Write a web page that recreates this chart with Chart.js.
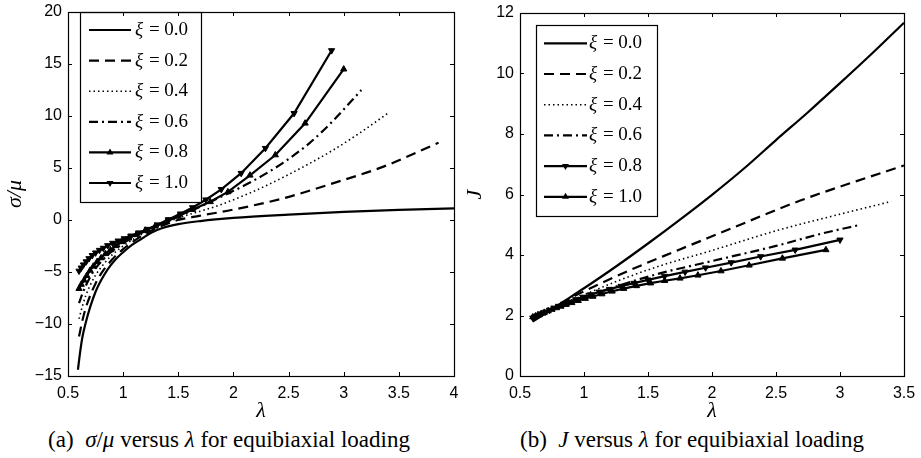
<!DOCTYPE html>
<html>
<head>
<meta charset="utf-8">
<script src="https://cdn.jsdelivr.net/npm/chart.js@4.4.1/dist/chart.umd.min.js"></script>
<style>
  html, body { margin: 0; padding: 0; background: #fff; }
  body { width: 921px; height: 458px; position: relative; overflow: hidden; }
  canvas { position: absolute; top: 0; }
  #chart-a { left: 0; }
  #chart-b { left: 460px; }
  .cap {
    position: absolute; top: 426px; text-align: center;
    font-family: "Liberation Serif", "Times New Roman", serif;
    font-size: 23px; line-height: 28px; color: #000; white-space: nowrap;
  }
</style>
</head>
<body>
<canvas id="chart-a" width="460" height="425"></canvas>
<canvas id="chart-b" width="461" height="425"></canvas>
<div class="cap" style="left:0;width:458px">(a)&nbsp; <i>σ</i>/<i>μ</i> versus <i>λ</i> for equibiaxial loading</div>
<div class="cap" style="left:460px;width:464px">(b)&nbsp; <i>J</i> versus <i>λ</i> for equibiaxial loading</div>
<script>
// =============================================================================
// DATA
// =============================================================================

const XI_LABELS = ['0.0', '0.2', '0.4', '0.6', '0.8', '1.0'];

// (a) sigma/mu versus lambda
const LAM_S0 = [0.59, 0.61, 0.63, 0.66, 0.70, 0.75, 0.80, 0.86, 0.93, 1.0, 1.08, 1.16, 1.25, 1.35, 1.5, 1.7, 2.0, 2.5, 3.0, 3.5, 4.0];
const SIG_S0 = [-14.4, -12.7, -11.3, -9.9, -8.4, -6.9, -5.8, -4.75, -3.8, -3.1, -2.4, -1.85, -1.25, -0.8, -0.4, -0.1, 0.2, 0.52, 0.78, 0.97, 1.12];

const LAM_S2 = [0.6, 0.63, 0.66, 0.7, 0.75, 0.8, 0.9, 1.0, 1.1, 1.2, 1.3, 1.4, 1.5, 1.69, 2.0, 2.45, 2.9, 3.36, 3.86];
const SIG_S2 = [-11.2, -9.7, -8.5, -7.3, -6.1, -5.15, -3.8, -2.8, -2.0, -1.35, -0.8, -0.35, 0.0, 0.4, 1.0, 2.08, 3.52, 5.13, 7.43];

const LAM_S4 = [0.6, 0.63, 0.66, 0.7, 0.75, 0.8, 0.9, 1.0, 1.1, 1.2, 1.3, 1.4, 1.5, 1.85, 2.15, 2.45, 2.9, 3.15, 3.40];
const SIG_S4 = [-9.5, -8.3, -7.3, -6.3, -5.3, -4.55, -3.35, -2.5, -1.8, -1.2, -0.7, -0.2, 0.2, 1.35, 2.6, 4.1, 6.7, 8.4, 10.26];

const LAM_S6 = [0.6, 0.63, 0.66, 0.7, 0.75, 0.8, 0.9, 1.0, 1.1, 1.2, 1.3, 1.4, 1.5, 1.6, 1.9, 2.15, 2.45, 2.69, 2.9, 3.16];
const SIG_S6 = [-8.0, -7.1, -6.35, -5.5, -4.65, -4.0, -3.0, -2.25, -1.6, -1.05, -0.55, -0.1, 0.35, 0.8, 2.3, 3.6, 5.5, 7.4, 9.5, 12.5];

// marker series (same lambda samples used in both panels)
const LAM_T8 = [0.60, 0.62, 0.645, 0.67, 0.70, 0.73, 0.765, 0.80, 0.84, 0.885, 0.935, 0.99, 1.05, 1.12, 1.20, 1.29, 1.39, 1.50, 1.63, 1.79, 1.95, 2.15, 2.38, 2.65, 3.0];
const SIG_T8 = [-6.6, -6.2, -5.8, -5.35, -4.85, -4.45, -4.0, -3.65, -3.25, -2.88, -2.48, -2.1, -1.75, -1.4, -1.0, -0.6, -0.17, 0.35, 1.0, 1.75, 2.7, 4.3, 6.25, 9.3, 14.5];
const J_T8   = [1.92, 1.96, 2.01, 2.06, 2.12, 2.18, 2.25, 2.31, 2.38, 2.45, 2.53, 2.61, 2.69, 2.78, 2.87, 2.97, 3.07, 3.18, 3.3, 3.44, 3.58, 3.75, 3.95, 4.17, 4.5];

const LAM_T10 = [0.60, 0.62, 0.64, 0.665, 0.69, 0.72, 0.75, 0.785, 0.82, 0.86, 0.905, 0.955, 1.01, 1.07, 1.14, 1.22, 1.31, 1.41, 1.52, 1.63, 1.75, 1.89, 2.07, 2.29, 2.55, 2.89];
const SIG_T10 = [-4.9, -4.6, -4.3, -4.0, -3.7, -3.4, -3.15, -2.9, -2.7, -2.45, -2.22, -2.0, -1.78, -1.52, -1.22, -0.88, -0.45, 0.05, 0.6, 1.2, 1.95, 2.95, 4.5, 6.9, 10.26, 16.3];
const J_T10   = [1.95, 1.98, 2.02, 2.06, 2.10, 2.15, 2.2, 2.25, 2.3, 2.36, 2.42, 2.49, 2.56, 2.63, 2.71, 2.8, 2.89, 2.98, 3.07, 3.15, 3.23, 3.33, 3.47, 3.66, 3.89, 4.17];

// (b) J versus lambda
const LAM_J0 = [0.6, 0.7, 0.8, 1.0, 1.25, 1.5, 1.75, 2.0, 2.25, 2.5, 2.75, 3.0, 3.25, 3.5];
const J_0    = [1.8, 2.07, 2.35, 2.9, 3.62, 4.38, 5.17, 5.99, 6.86, 7.8, 8.72, 9.68, 10.66, 11.68];

const LAM_J2 = [0.6, 0.8, 1.0, 1.36, 1.7, 2.06, 2.69, 3.1, 3.5];
const J_2    = [1.85, 2.35, 2.8, 3.5, 4.1, 4.72, 5.8, 6.4, 6.96];

const LAM_J4 = [0.6, 0.8, 1.0, 1.28, 1.6, 2.0, 2.5, 3.0, 3.4];
const J_4    = [1.88, 2.3, 2.68, 3.17, 3.65, 4.15, 4.8, 5.35, 5.77];

const LAM_J6 = [0.6, 0.8, 1.0, 1.28, 1.6, 2.0, 2.5, 2.85, 3.16];
const J_6    = [1.9, 2.28, 2.6, 3.0, 3.4, 3.8, 4.3, 4.7, 5.0];

const X_TICKS_A = [0.5, 1, 1.5, 2, 2.5, 3, 3.5, 4];
const Y_TICKS_A = [-15, -10, -5, 0, 5, 10, 15, 20];
const X_TICKS_B = [0.5, 1, 1.5, 2, 2.5, 3, 3.5];
const Y_TICKS_B = [0, 2, 4, 6, 8, 10, 12];

// =============================================================================
// STYLES
// =============================================================================

const SERIF = '"Liberation Serif", "Times New Roman", serif';
const SANS = '"Liberation Sans", Arial, Helvetica, sans-serif';
const TICK_LEN = 4;

const LINE_STYLES = [
  { borderDash: [], borderWidth: 2.2 },
  { borderDash: [10, 6], borderWidth: 2.2 },
  { borderDash: [1.5, 3], borderWidth: 1.6 },
  { borderDash: [9, 4, 2, 4], borderWidth: 2.2 },
  { borderDash: [], borderWidth: 2.2 },
  { borderDash: [], borderWidth: 2.2 }
];

const pts = (xs, ys) => xs.map((x, i) => ({ x, y: ys[i] }));

function curve(idx, xs, ys) {
  return {
    label: XI_LABELS[idx],
    data: pts(xs, ys),
    borderColor: '#000',
    backgroundColor: '#000',
    ...LINE_STYLES[idx],
    pointRadius: 0,
    cubicInterpolationMode: 'monotone',
    showLine: true
  };
}

function markerCurve(idx, xs, ys, rotation) {
  return {
    label: XI_LABELS[idx],
    data: pts(xs, ys),
    borderColor: '#000',
    backgroundColor: '#000',
    ...LINE_STYLES[idx],
    pointStyle: 'triangle',
    pointRotation: rotation,
    pointRadius: 3.6,
    pointBorderWidth: 1,
    tension: 0,
    showLine: true
  };
}

// =============================================================================
// PLUGINS: boxed axes with inward ticks, in-plot legend
// =============================================================================

function drawTri(ctx, x, y, r, rot) {
  ctx.save();
  ctx.translate(x, y);
  ctx.rotate(rot * Math.PI / 180);
  ctx.beginPath();
  ctx.moveTo(0, -r);
  ctx.lineTo(r * 0.866, r * 0.5);
  ctx.lineTo(-r * 0.866, r * 0.5);
  ctx.closePath();
  ctx.fill();
  ctx.restore();
}

const boxAxes = {
  id: 'boxAxes',
  afterDraw(chart, args, opts) {
    const { ctx, chartArea: a, scales: { x, y } } = chart;
    ctx.save();

    // legend
    const L = opts.legend;
    ctx.fillStyle = '#fff';
    ctx.fillRect(L.x, L.y, L.w, L.h);
    ctx.strokeStyle = '#000';
    ctx.lineWidth = 1.2;
    ctx.strokeRect(L.x + 0.5, L.y + 0.5, L.w, L.h);
    chart.data.datasets.forEach((ds, i) => {
      const yy = L.row0 + i * L.rowGap;
      ctx.setLineDash(ds.borderDash || []);
      ctx.lineWidth = ds.borderWidth;
      ctx.beginPath();
      ctx.moveTo(L.x0, yy);
      ctx.lineTo(L.x1, yy);
      ctx.stroke();
      ctx.setLineDash([]);
      ctx.fillStyle = '#000';
      if (ds.pointStyle === 'triangle') drawTri(ctx, (L.x0 + L.x1) / 2, yy, 4, ds.pointRotation);
      ctx.textBaseline = 'middle';
      ctx.textAlign = 'left';
      ctx.font = 'italic 19px ' + SERIF;
      ctx.fillText('ξ', L.tx, yy);
      const w = ctx.measureText('ξ').width;
      ctx.font = '19px ' + SERIF;
      ctx.fillText(' = ' + ds.label, L.tx + w + 1, yy);
    });

    // frame and inward ticks
    ctx.strokeStyle = '#000';
    ctx.lineWidth = 1;
    ctx.beginPath();
    x.ticks.forEach(t => {
      const px = Math.round(x.getPixelForValue(t.value)) + 0.5;
      ctx.moveTo(px, a.bottom); ctx.lineTo(px, a.bottom - TICK_LEN);
      ctx.moveTo(px, a.top); ctx.lineTo(px, a.top + TICK_LEN);
    });
    y.ticks.forEach(t => {
      const py = Math.round(y.getPixelForValue(t.value)) + 0.5;
      ctx.moveTo(a.left, py); ctx.lineTo(a.left + TICK_LEN, py);
      ctx.moveTo(a.right, py); ctx.lineTo(a.right - TICK_LEN, py);
    });
    ctx.stroke();
    ctx.lineWidth = 1.2;
    ctx.strokeRect(Math.round(a.left) + 0.5, Math.round(a.top) + 0.5,
      Math.round(a.right - a.left), Math.round(a.bottom - a.top));
    ctx.restore();
  }
};

// =============================================================================
// CHART BUILDER
// =============================================================================

function buildChart(id, cfg) {
  const ctx = document.getElementById(id).getContext('2d');
  return new Chart(ctx, {
    type: 'scatter',
    data: { datasets: cfg.datasets },
    options: {
      responsive: false,
      animation: false,
      events: [],
      layout: { padding: cfg.padding },
      plugins: {
        legend: { display: false },
        tooltip: { enabled: false },
        boxAxes: { legend: cfg.legend }
      },
      scales: {
        x: {
          type: 'linear',
          min: cfg.xTicks[0],
          max: cfg.xTicks[cfg.xTicks.length - 1],
          afterBuildTicks: (s) => { s.ticks = cfg.xTicks.map(v => ({ value: v })); },
          afterFit: (s) => { s.height = 49; s.paddingLeft = 0; s.paddingRight = 0; },
          grid: { display: false, drawTicks: false },
          border: { display: false },
          ticks: {
            color: '#000', font: { family: SANS, size: 16 }, padding: 8, maxRotation: 0,
            callback: (v) => String(v)
          },
          title: { display: true, text: 'λ', color: '#000', font: { family: SERIF, size: 22, style: 'italic' }, padding: { top: 0, bottom: 1 } }
        },
        y: {
          type: 'linear',
          min: cfg.yTicks[0],
          max: cfg.yTicks[cfg.yTicks.length - 1],
          afterBuildTicks: (s) => { s.ticks = cfg.yTicks.map(v => ({ value: v })); },
          afterFit: (s) => { s.width = cfg.yWidth; s.paddingTop = 0; s.paddingBottom = 0; },
          grid: { display: false, drawTicks: false },
          border: { display: false },
          ticks: {
            color: '#000', font: { family: SANS, size: 16 }, padding: 6,
            callback: (v) => String(v).replace('-', '\u2212')
          },
          title: { display: true, text: cfg.yTitle, color: '#000', font: { family: SERIF, size: 22, style: 'italic' }, padding: { top: 2, bottom: 0 } }
        }
      }
    },
    plugins: [boxAxes]
  });
}

// (a) sigma/mu
buildChart('chart-a', {
  datasets: [
    curve(0, LAM_S0, SIG_S0),
    curve(1, LAM_S2, SIG_S2),
    curve(2, LAM_S4, SIG_S4),
    curve(3, LAM_S6, SIG_S6),
    markerCurve(4, LAM_T8, SIG_T8, 0),
    markerCurve(5, LAM_T10, SIG_T10, 180)
  ],
  xTicks: X_TICKS_A,
  yTicks: Y_TICKS_A,
  yTitle: 'σ/μ',
  yWidth: 68,
  padding: { top: 12, right: 6, left: 0, bottom: 0 },
  legend: { x: 80, y: 12, w: 121, h: 190, row0: 30, rowGap: 30.6, x0: 89, x1: 131, tx: 135 }
});

// (b) J
buildChart('chart-b', {
  datasets: [
    curve(0, LAM_J0, J_0),
    curve(1, LAM_J2, J_2),
    curve(2, LAM_J4, J_4),
    curve(3, LAM_J6, J_6),
    markerCurve(4, LAM_T8, J_T8, 180),
    markerCurve(5, LAM_T10, J_T10, 0)
  ],
  xTicks: X_TICKS_B,
  yTicks: Y_TICKS_B,
  yTitle: 'J',
  yWidth: 60,
  padding: { top: 13, right: 17, left: 0, bottom: 0 },
  legend: { x: 76, y: 25, w: 121, h: 191, row0: 43.3, rowGap: 30.7, x0: 84, x1: 127, tx: 129 }
});
</script>
</body>
</html>
